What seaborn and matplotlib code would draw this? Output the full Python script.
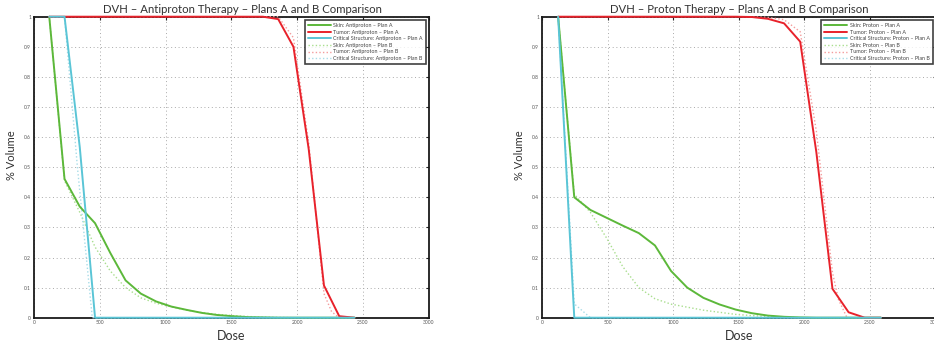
import matplotlib
matplotlib.use("Agg")
import matplotlib.pyplot as plt
import seaborn as sns
import numpy as np

# ---------------- data ----------------
# Antiproton therapy (dose bins)
dose_ap = [116, 232, 348, 464, 580, 696, 812, 928, 1044, 1160, 1276, 1392, 1508,
           1624, 1740, 1856, 1972, 2088, 2204, 2320, 2436]
skin_ap_A = [1, 0.461, 0.369, 0.314, 0.215, 0.124, 0.080, 0.054, 0.037, 0.026, 0.016,
             0.009, 0.005, 0.002, 0.001, 0, 0, 0, 0, 0, 0]
tumor_ap_A = [1, 1, 1, 1, 1, 1, 1, 1, 1, 1, 1, 1, 1, 1, 1, 0.992, 0.90, 0.56, 0.107,
              0.005, 0]
crit_ap_A = [1, 1, 0.566, 0, 0, 0, 0, 0, 0, 0, 0, 0, 0, 0, 0, 0, 0, 0, 0, 0, 0]
skin_ap_B = [1, 0.455, 0.35, 0.235, 0.155, 0.10, 0.066, 0.048, 0.036, 0.025, 0.017,
             0.011, 0.007, 0.004, 0.002, 0.001, 0, 0, 0, 0, 0]
tumor_ap_B_dose = [116, 1856, 1972, 2088, 2204, 2262, 2320, 2436]
tumor_ap_B = [1, 1, 0.93, 0.58, 0.08, 0.02, 0, 0]
crit_ap_B_dose = [116, 232, 330, 443, 2436]
crit_ap_B = [1, 1, 0.5, 0, 0]

# Proton therapy (dose bins)
dose_p = [123, 246, 369, 492, 615, 738, 861, 984, 1107, 1230, 1353, 1476, 1599,
          1722, 1845, 1968, 2091, 2214, 2337, 2460, 2583]
skin_p_A = [1, 0.40, 0.358, 0.332, 0.306, 0.281, 0.24, 0.155, 0.10, 0.066, 0.044,
            0.027, 0.015, 0.007, 0.003, 0.001, 0, 0, 0, 0, 0]
tumor_p_A = [1, 1, 1, 1, 1, 1, 1, 1, 1, 1, 1, 1, 0.999, 0.993, 0.978, 0.917, 0.55,
             0.096, 0.018, 0, 0]
crit_p_A = [1, 0, 0, 0, 0, 0, 0, 0, 0, 0, 0, 0, 0, 0, 0, 0, 0, 0, 0, 0, 0]
skin_p_B = [1, 0.41, 0.35, 0.265, 0.17, 0.10, 0.063, 0.045, 0.035, 0.025, 0.018,
            0.011, 0.007, 0.004, 0.002, 0, 0, 0, 0, 0, 0]
tumor_p_B_dose = [123, 1600, 1722, 1845, 1968, 2091, 2214, 2260, 2325, 2583]
tumor_p_B = [1, 1, 0.998, 0.99, 0.95, 0.62, 0.15, 0.06, 0, 0]
crit_p_B = [1, 0.046, 0, 0, 0, 0, 0, 0, 0, 0, 0, 0, 0, 0, 0, 0, 0, 0, 0, 0, 0]

x_ticks = [0, 500, 1000, 1500, 2000, 2500, 3000]
y_ticks = [0, 0.1, 0.2, 0.3, 0.4, 0.5, 0.6, 0.7, 0.8, 0.9, 1]
y_ticklabels = ["0", "0.1", "0.2", "0.3", "0.4", "0.5", "0.6", "0.7", "0.8", "0.9", "1"]

titles = ["DVH \u2013 Antiproton Therapy \u2013 Plans A and B Comparison",
          "DVH \u2013 Proton Therapy \u2013 Plans A and B Comparison"]

# ---------------- style ----------------
sns.set_style("white")
plt.rcParams['font.family'] = ['Lato', 'DejaVu Sans']

GREEN = "#5cb83a"
RED = "#e8222b"
CYAN = "#5ac5d6"
GREEN_L = "#a9de8e"
RED_L = "#f49c9c"
CYAN_L = "#a8dce8"

fig = plt.figure(figsize=(9.34, 3.47), dpi=100)
W, H = 934.0, 347.0
ax_l = fig.add_axes([34 / W, (H - 317.7) / H, 394.7 / W, 301 / H])
ax_r = fig.add_axes([542 / W, (H - 317.7) / H, 393.6 / W, 301 / H])

DOT = (0, (1, 1.6))


def draw(ax, therapy, dA, skinA, tumA, critA, skinB_d, skinB, tumB_d, tumB, critB_d, critB,
         title, title_x):
    common = dict(ax=ax, clip_on=False)
    sns.lineplot(x=skinB_d, y=skinB, color=GREEN_L, lw=1.0, linestyle=DOT, zorder=3,
                 label=f"Skin: {therapy} \u2013 Plan B", **common)
    sns.lineplot(x=tumB_d, y=tumB, color=RED_L, lw=1.0, linestyle=DOT, zorder=3,
                 label=f"Tumor: {therapy} \u2013 Plan B", **common)
    sns.lineplot(x=critB_d, y=critB, color=CYAN_L, lw=1.0, linestyle=DOT, zorder=3,
                 label=f"Critical Structure: {therapy} \u2013 Plan B", **common)
    sns.lineplot(x=dA, y=skinA, color=GREEN, lw=1.4, zorder=4,
                 label=f"Skin: {therapy} \u2013 Plan A", **common)
    sns.lineplot(x=dA, y=tumA, color=RED, lw=1.4, zorder=4,
                 label=f"Tumor: {therapy} \u2013 Plan A", **common)
    sns.lineplot(x=dA, y=critA, color=CYAN, lw=1.4, zorder=4,
                 label=f"Critical Structure: {therapy} \u2013 Plan A", **common)
    ax.set_xlim(0, 3000)
    ax.set_ylim(0, 1)
    ax.set_xticks(x_ticks)
    ax.set_xticklabels([str(t) for t in x_ticks])
    ax.set_yticks(y_ticks)
    ax.set_yticklabels(y_ticklabels)
    ax.tick_params(direction='in', top=True, right=True, length=2.5, width=0.8,
                   labelsize=3.6, labelcolor="#555555", color="#222222", pad=2)
    ax.grid(True, linestyle=(0, (1, 2.8)), color="#aaaaaa", linewidth=0.7)
    for s in ax.spines.values():
        s.set_color("#1a1a1a")
        s.set_linewidth(1.3)
        s.set_zorder(2.5)
    ax.set_xlabel("Dose", fontsize=9, color="#333333", labelpad=3)
    ax.set_ylabel("% Volume", fontsize=8, color="#333333", labelpad=4)
    ax.yaxis.set_label_coords(-0.044, 0.54)
    ax.text(title_x, 1.005, title, transform=ax.transAxes, ha="center", va="bottom",
            fontsize=8.2, color="#333333")
    # legend order: plan A first, then plan B
    handles, labels = ax.get_legend_handles_labels()
    order = [3, 4, 5, 0, 1, 2]
    leg = ax.legend([handles[i] for i in order], [labels[i] for i in order],
                    loc="upper right", bbox_to_anchor=(0.993, 0.989), fontsize=3.9,
                    frameon=True, fancybox=False, handlelength=4.2, handletextpad=0.5,
                    labelspacing=0.3, borderpad=0.55, borderaxespad=0)
    leg.get_frame().set_edgecolor("#111111")
    leg.get_frame().set_linewidth(1.2)
    leg.set_zorder(6)
    for t in leg.get_texts():
        t.set_color("#444444")


draw(ax_l, "Antiproton", dose_ap, skin_ap_A, tumor_ap_A, crit_ap_A,
     dose_ap, skin_ap_B, tumor_ap_B_dose, tumor_ap_B, crit_ap_B_dose, crit_ap_B,
     titles[0], 0.528)
draw(ax_r, "Proton", dose_p, skin_p_A, tumor_p_A, crit_p_A,
     dose_p, skin_p_B, tumor_p_B_dose, tumor_p_B, dose_p, crit_p_B,
     titles[1], 0.502)

fig.savefig("out.png", dpi=100)
